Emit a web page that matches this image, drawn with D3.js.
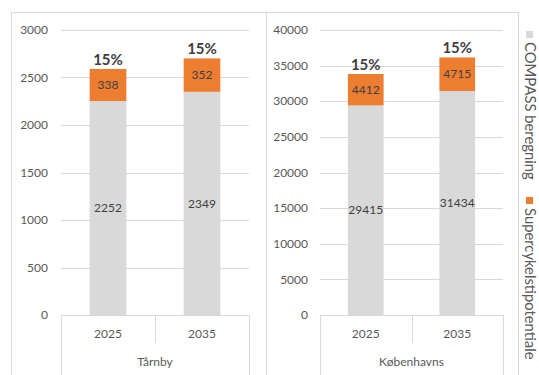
<!DOCTYPE html>
<html><head><meta charset="utf-8">
<script src="https://cdn.jsdelivr.net/npm/d3@7"></script>
<style>body{margin:0;background:#fff}svg{display:block}text{font-family:Lato,"Open Sans",sans-serif}</style>
</head><body><svg id="c" width="539" height="375"></svg>
<script>
const years = ["2025", "2035"];
const regions = ["Tårnby", "Københavns"];
const compass = [[2252, 2349], [29415, 31434]];
const super_ = [[338, 352], [4412, 4715]];
const pctLabels = [["15%", "15%"], ["15%", "15%"]];
const yTicks = [[0, 500, 1000, 1500, 2000, 2500, 3000], [0, 5000, 10000, 15000, 20000, 25000, 30000, 35000, 40000]];
const yMax = [3000, 40000];
const seriesNames = ["COMPASS beregning", "Supercykelstipotentiale"];
const colors = ["#D9D9D9", "#ED7D31"];

const svg = d3.select("#c");
const lineC = "#D9D9D9", txtC = "#595959";

svg.append("rect").attr("x", 11.5).attr("y", 12.5).attr("width", 255).attr("height", 370).attr("fill", "none").attr("stroke", lineC);
svg.append("rect").attr("x", 266.5).attr("y", 12.5).attr("width", 252).attr("height", 370).attr("fill", "none").attr("stroke", lineC);

const panels = [
  {x0: 61, x1: 249, labelX: 48},
  {x0: 320, x1: 503, labelX: 308}
];
const yTop = 30, yBot = 315;

panels.forEach((p, i) => {
  const g = svg.append("g");
  const x = d3.scaleBand().domain(years).range([p.x0, p.x1]).padding(0);
  const y = d3.scaleLinear().domain([0, yMax[i]]).range([yBot, yTop]);
  g.selectAll(".grid").data(yTicks[i].filter(t => t > 0)).join("line")
    .attr("x1", p.x0).attr("x2", p.x1).attr("y1", d => Math.round(y(d)) + 0.5).attr("y2", d => Math.round(y(d)) + 0.5)
    .attr("stroke", lineC);
  g.selectAll(".yl").data(yTicks[i]).join("text")
    .attr("x", p.labelX).attr("y", d => y(d)).attr("dy", "0.35em").attr("text-anchor", "end")
    .attr("font-size", 12).attr("fill", txtC).text(d => d);
  const bw = x.bandwidth() * 0.39;
  const cx = d => x(d) + x.bandwidth() / 2;
  years.forEach((yr, j) => {
    const c = compass[i][j], s = super_[i][j];
    g.append("rect").attr("x", cx(yr) - bw / 2).attr("width", bw)
      .attr("y", y(c)).attr("height", y(0) - y(c)).attr("fill", colors[0]);
    g.append("rect").attr("x", cx(yr) - bw / 2).attr("width", bw)
      .attr("y", y(c + s)).attr("height", y(c) - y(c + s)).attr("fill", colors[1]);
    g.append("text").attr("x", cx(yr)).attr("y", y(c / 2)).attr("dy", "0.35em").attr("text-anchor", "middle")
      .attr("font-size", 12).attr("fill", "#404040").text(c);
    g.append("text").attr("x", cx(yr)).attr("y", y(c + s / 2)).attr("dy", "0.35em").attr("text-anchor", "middle")
      .attr("font-size", 12).attr("fill", "#404040").text(s);
    g.append("text").attr("x", cx(yr)).attr("y", y(c + s) - 4).attr("text-anchor", "middle")
      .attr("font-size", 15).attr("font-weight", "bold").attr("fill", "#404040").text(pctLabels[i][j]);
  });
  g.append("line").attr("x1", p.x0).attr("x2", p.x1).attr("y1", yBot + 0.5).attr("y2", yBot + 0.5).attr("stroke", lineC);
  g.append("line").attr("x1", p.x0 + 0.5).attr("x2", p.x0 + 0.5).attr("y1", yBot).attr("y2", 375).attr("stroke", lineC);
  g.append("line").attr("x1", p.x1 + 0.5).attr("x2", p.x1 + 0.5).attr("y1", yBot).attr("y2", 375).attr("stroke", lineC);
  g.append("line").attr("x1", Math.round(x(years[1])) + 0.5).attr("x2", Math.round(x(years[1])) + 0.5).attr("y1", yBot).attr("y2", 343).attr("stroke", lineC);
  g.selectAll(".xl").data(years).join("text")
    .attr("x", cx).attr("y", 334).attr("dy", "0.35em").attr("text-anchor", "middle")
    .attr("font-size", 12).attr("fill", txtC).text(d => d);
  g.append("text").attr("x", (p.x0 + p.x1) / 2).attr("y", 362).attr("dy", "0.35em").attr("text-anchor", "middle")
    .attr("font-size", 12).attr("fill", txtC).text(regions[i]);
});

const legY = [31, 197];
seriesNames.forEach((n, k) => {
  svg.append("rect").attr("x", 526).attr("y", legY[k]).attr("width", 7).attr("height", 7).attr("fill", colors[k]);
  svg.append("text").attr("transform", `translate(530,${legY[k] + 11}) rotate(90)`)
    .attr("dy", "0.35em").attr("font-size", 14.8).attr("fill", txtC).text(n);
});
</script></body></html>
